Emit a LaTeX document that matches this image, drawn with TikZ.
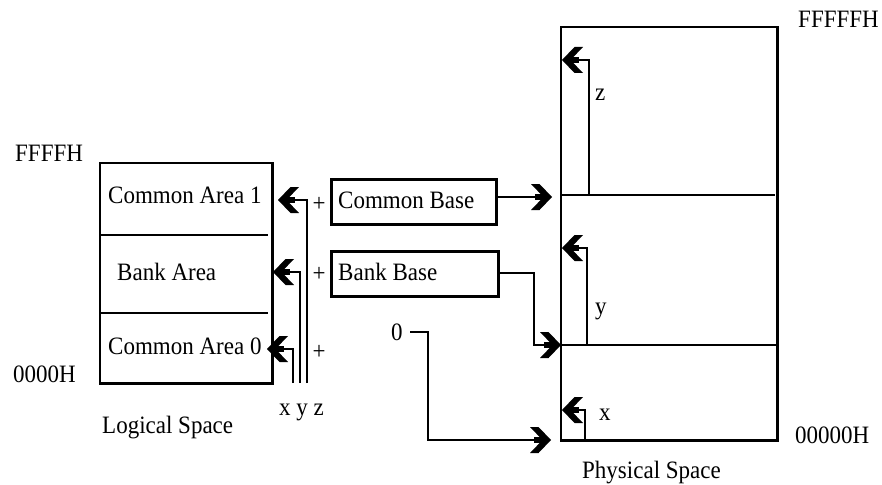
\documentclass[tikz,border=0pt]{standalone}
\usepackage{fontspec}
\setmainfont{Liberation Serif}[FakeStretch=0.92]
\tikzset{
  txt/.style={inner sep=0pt, anchor=base west, font=\fontsize{25}{29}\selectfont},
  outline/.style={line width=2.7pt},
  divider/.style={line width=2pt},
  conn/.style={line width=2.8pt, shorten >=3pt},
  regbox/.style={draw, line width=2.5pt, inner sep=0pt, minimum height=45pt, anchor=north west},
  chev/.pic={
    \fill (0,0) -- (-12.5,13) -- (-21,13) -- (-8.5,0) -- (-21,-13) -- (-12.5,-13) -- cycle;
    \fill (-17,-2.8) rectangle (-6,2.8);
  },
}
\begin{document}
\begin{tikzpicture}[x=1pt,y=-1pt]
\useasboundingbox (0,0) rectangle (882,484);

% logical space
\node[minimum width=172pt, minimum height=72pt, inner sep=0pt, anchor=north west] (ca1) at (100,163) {};
\node[minimum width=172pt, minimum height=78pt, inner sep=0pt, anchor=north west] (bank) at (100,235) {};
\node[minimum width=172pt, minimum height=70pt, inner sep=0pt, anchor=north west] (ca0) at (100,313) {};
\draw[outline] (ca1.north west) rectangle (ca0.south east);
\draw[divider] (ca1.south west) -- ++(168,0);
\draw[divider] (bank.south west) -- ++(168,0);
\node[txt] (tca1) at (108,203) {Common Area 1};
\node[txt] (tbank) at (117,280) {Bank Area};
\node[txt] (tca0) at (108,354) {Common Area 0};

\node[txt] (ffffh) at (15,161) {FFFFH};
\node[txt] (h0000) at (13,382) {0000H};
\node[txt] (lspace) at (102,433) {Logical Space};
\node[txt] (xyz) at (279,415) {x y z};

\coordinate (lz) at (307,383);
\coordinate (ly) at (300,383);
\coordinate (lx) at (293,383);
\coordinate (lzt) at (278,200);
\coordinate (lyt) at (273,272);
\coordinate (lxt) at (267,349);
\draw[conn] (lz) |- (lzt);
\draw[conn] (ly) |- (lyt);
\draw[conn] (lx) |- (lxt);
\pic[rotate=180] at (lzt) {chev};
\pic[rotate=180] at (lyt) {chev};
\pic[rotate=180] at (lxt) {chev};

\node[txt, anchor=center] (p1) at (319,204) {+};
\node[txt, anchor=center] (p2) at (319,274) {+};
\node[txt, anchor=center] (p3) at (319,352) {+};

% base registers
\node[regbox, minimum width=165pt] (cb) at (330,178) {};
\node[regbox, minimum width=167pt] (bb) at (330,250) {};
\node[txt] (tcb) at (338,208) {Common Base};
\node[txt] (tbb) at (338,280) {Bank Base};
\node[txt] (zero) at (391,340) {0};

% physical space
\node[minimum width=216pt, minimum height=168pt, inner sep=0pt, anchor=north west] (pz) at (561,27) {};
\node[minimum width=216pt, minimum height=150pt, inner sep=0pt, anchor=north west] (py) at (561,195) {};
\node[minimum width=216pt, minimum height=95pt, inner sep=0pt, anchor=north west] (px) at (561,345) {};
\draw[outline] (pz.north west) rectangle (px.south east);
\draw[divider] (pz.south west) -- ++(214,0);
\draw[divider] (py.south west) -- (py.south east);

\node[txt] (fffffh) at (798,28) {FFFFFH};
\node[txt] (h00000) at (795,443) {00000H};
\node[txt] (pspace) at (582,478) {Physical Space};

\coordinate (cbt) at (552,197);
\draw[conn] (cb.east |- cbt) -- (cbt);
\pic at (cbt) {chev};
\coordinate (bbs) at (497,273);
\coordinate (bbt) at (561,345);
\draw[conn] (bbs) -| (534,310) |- (bbt);
\pic at (bbt) {chev};
\coordinate (zs) at (410,332);
\coordinate (zt) at (551,440);
\draw[conn] (zs) -| (428,400) |- (zt);
\pic at (zt) {chev};

\coordinate (pzs) at (589,195);
\coordinate (pzt) at (562,60);
\coordinate (pys) at (587,345);
\coordinate (pyt) at (562,248);
\coordinate (pxs) at (585,440);
\coordinate (pxt) at (562,410);
\draw[conn] (pzs) |- (pzt);
\draw[conn] (pys) |- (pyt);
\draw[conn] (pxs) |- (pxt);
\pic[rotate=180] at (pzt) {chev};
\pic[rotate=180] at (pyt) {chev};
\pic[rotate=180] at (pxt) {chev};

\node[txt] (lblz) at (595,101) {z};
\node[txt] (lbly) at (595,314) {y};
\node[txt] (lblx) at (599,420) {x};
\end{tikzpicture}
\end{document}
